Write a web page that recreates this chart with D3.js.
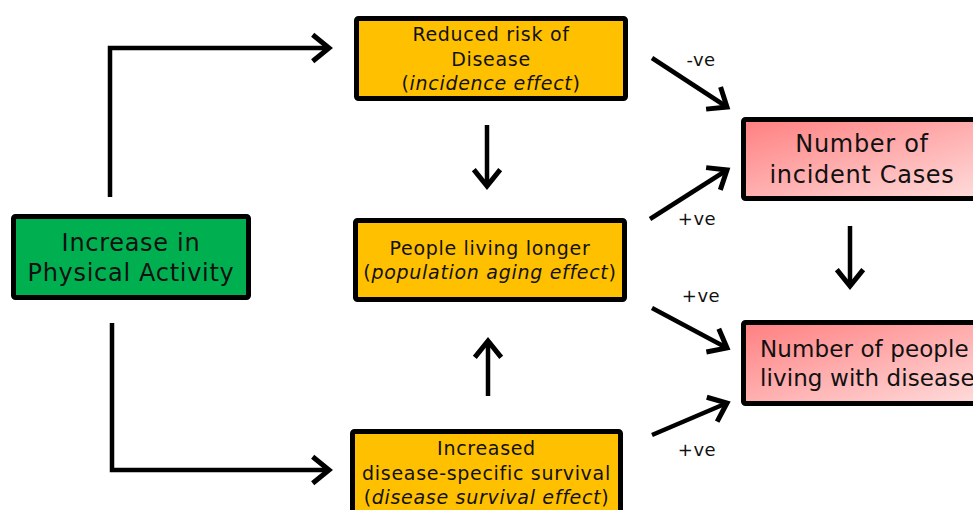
<!DOCTYPE html>
<html>
<head>
<meta charset="utf-8">
<script src="https://cdn.jsdelivr.net/npm/d3@7"></script>
<style>
  body { margin: 0; background: #fff; }
  svg { display: block; font-family: "DejaVu Sans", Verdana, sans-serif; }
</style>
</head>
<body>
<div id="diagram"></div>
<script>
// ---- data: boxes and the links between them ----
var nodeIds = ["activity", "risk", "aging", "survival", "incident", "living"];
var nodeKinds = ["cause", "effect", "effect", "effect", "outcome", "outcome"];
// *...* marks italic text
var nodeLines = [
  ["Increase in", "Physical Activity"],
  ["Reduced risk of", "Disease", "(*incidence effect*)"],
  ["People living longer", "(*population aging effect*)"],
  ["Increased", "disease-specific survival", "(*disease survival effect*)"],
  ["Number of", "incident Cases"],
  ["Number of people", "living with disease"]
];
var linkFrom = ["activity", "activity", "risk", "survival", "risk", "aging", "aging", "survival", "incident"];
var linkTo   = ["risk", "survival", "aging", "aging", "incident", "incident", "living", "living", "living"];
var linkSign = ["", "", "", "", "-ve", "+ve", "+ve", "+ve", ""];

// ---- layout ----
var width = 973, height = 510;

var svg = d3.select("#diagram")
  .append("svg")
    .attr("width", width)
    .attr("height", height);

var defs = svg.append("defs");
var grad = defs.append("linearGradient")
    .attr("id", "pinkGrad")
    .attr("x1", "0%").attr("y1", "0%")
    .attr("x2", "100%").attr("y2", "100%");
grad.append("stop").attr("offset", "0%").attr("stop-color", "#ff7f80");
grad.append("stop").attr("offset", "100%").attr("stop-color", "#ffe1e1");

// outer edges of each box [x0, y0, x1, y1]
var boxes = {
  activity: [11, 214, 251, 300],
  risk:     [354, 16, 628, 101],
  aging:    [353, 218, 627, 302],
  survival: [350, 429, 623, 516],
  incident: [741, 117, 1010, 201],
  living:   [741, 320, 1010, 406]
};
var kindStyle = {
  cause:   {fill: "#00b050", size: 24, lh: 30, ls: 0.7},
  effect:  {fill: "#ffc000", size: 19, lh: 24.5, ls: 0.7},
  outcome: {fill: "url(#pinkGrad)", size: 24, lh: 31, ls: 0.7}
};
// per-box text tweaks
var textOverride = {
  incident: {x: 862},
  living: {x: 760, anchor: "start", size: 23, ls: 0.1, lh: 29}
};

// connector geometry, keyed by link index
var linkPaths = [
  [[110, 197], [110, 48], [329, 48]],
  [[112, 323], [112, 470], [329, 470]],
  [[487, 125], [487, 186]],
  [[488, 396], [488, 341]],
  [[652, 58], [727, 107]],
  [[650, 219], [727, 170]],
  [[652, 308], [727, 348]],
  [[652, 435], [727, 403]],
  [[850, 226], [850, 286]]
];
var signPos = [null, null, null, null, [701, 66], [697, 225], [701, 302], [697, 456]];

var sw = 5;
var nodes = nodeIds.map(function(id, i) {
  return {id: id, kind: nodeKinds[i], lines: nodeLines[i], box: boxes[id]};
});

var gNodes = svg.selectAll("g.node")
  .data(nodes)
  .enter()
  .append("g")
    .attr("class", "node");

gNodes.append("rect")
    .attr("x", function(d) { return d.box[0] + sw / 2; })
    .attr("y", function(d) { return d.box[1] + sw / 2; })
    .attr("width", function(d) { return d.box[2] - d.box[0] - sw; })
    .attr("height", function(d) { return d.box[3] - d.box[1] - sw; })
    .attr("rx", 2)
    .style("fill", function(d) { return kindStyle[d.kind].fill; })
    .style("stroke", "#000")
    .style("stroke-width", sw);

gNodes.each(function(d) {
  var st = Object.assign({}, kindStyle[d.kind], textOverride[d.id] || {});
  var cx = st.x || (d.box[0] + d.box[2]) / 2;
  var cy = (d.box[1] + d.box[3]) / 2;
  var n = d.lines.length;
  var text = d3.select(this).append("text")
      .attr("text-anchor", st.anchor || "middle")
      .attr("font-size", st.size)
      .attr("letter-spacing", st.ls)
      .attr("fill", "#111");
  d.lines.forEach(function(line, j) {
    var y = cy + (j - (n - 1) / 2) * st.lh + st.size * 0.37;
    var parts = line.split("*");
    var first = true;
    parts.forEach(function(p, k) {
      if (p === "") return;
      var ts = text.append("tspan").text(p)
          .attr("font-style", k % 2 === 1 ? "italic" : "normal");
      if (first) { ts.attr("x", cx).attr("y", y); first = false; }
    });
  });
});

// arrows: line plus open chevron head
var line = d3.line();
function head(p, q) {
  var a = Math.atan2(q[1] - p[1], q[0] - p[0]);
  var len = 21, spread = 0.68;
  return [
    [q[0] - len * Math.cos(a - spread), q[1] - len * Math.sin(a - spread)],
    q,
    [q[0] - len * Math.cos(a + spread), q[1] - len * Math.sin(a + spread)]
  ];
}

var gLinks = svg.selectAll("g.link")
  .data(linkFrom.map(function(f, i) {
    return {from: f, to: linkTo[i], sign: linkSign[i], pts: linkPaths[i], lab: signPos[i]};
  }))
  .enter()
  .append("g")
    .attr("class", "link");

gLinks.append("path")
    .attr("d", function(d) { return line(d.pts); })
    .style("fill", "none")
    .style("stroke", "#000")
    .style("stroke-width", 4.5)
    .style("stroke-linejoin", "miter");

gLinks.append("path")
    .attr("d", function(d) {
      var n = d.pts.length;
      return line(head(d.pts[n - 2], d.pts[n - 1]));
    })
    .style("fill", "none")
    .style("stroke", "#000")
    .style("stroke-width", 5)
    .style("stroke-linejoin", "miter");

gLinks.filter(function(d) { return d.sign !== ""; })
  .append("text")
    .attr("x", function(d) { return d.lab[0]; })
    .attr("y", function(d) { return d.lab[1]; })
    .attr("text-anchor", "middle")
    .attr("font-size", 18)
    .attr("letter-spacing", 0.5)
    .attr("fill", "#111")
    .text(function(d) { return d.sign; });
</script>
</body>
</html>
